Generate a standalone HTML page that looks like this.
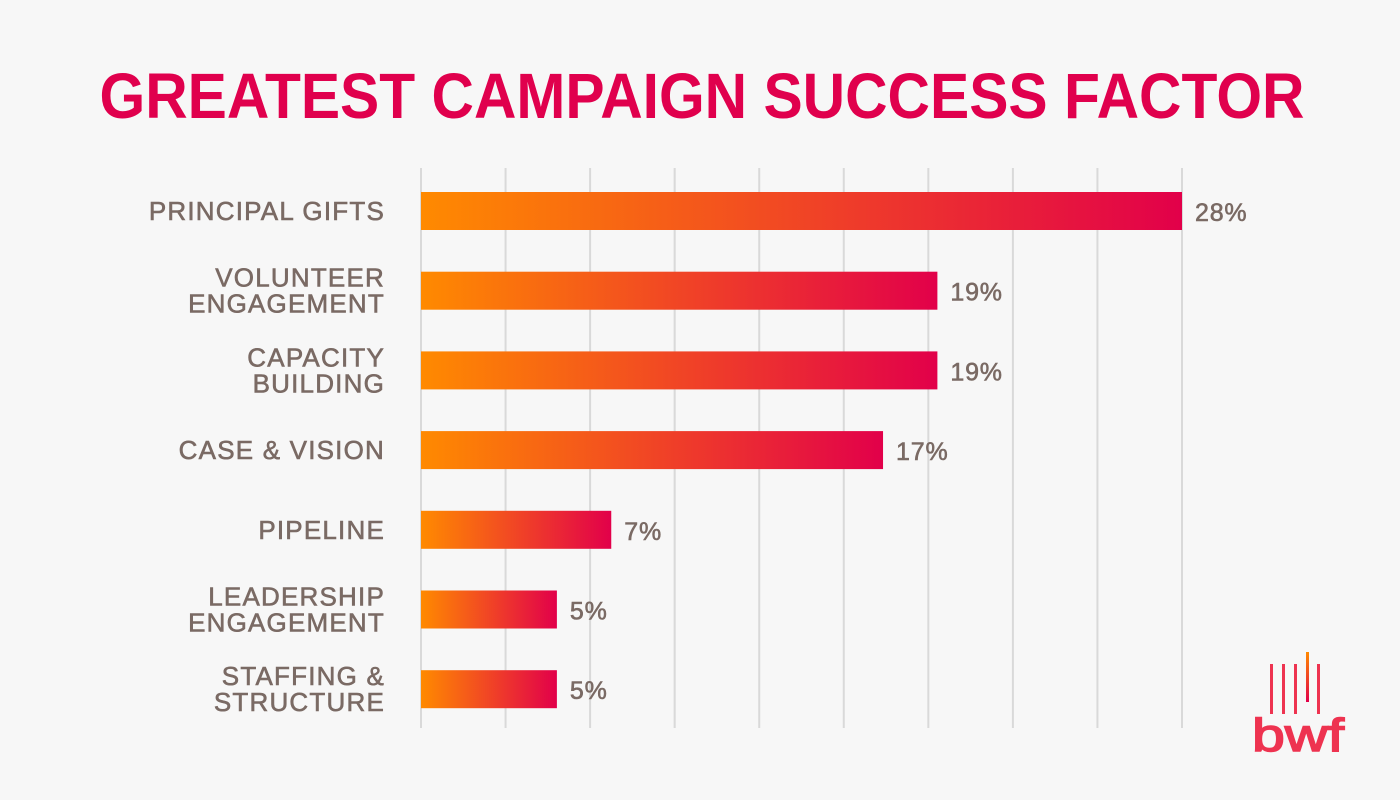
<!DOCTYPE html>
<html><head><meta charset="utf-8"><style>
body{margin:0;background:#f7f7f7;}
svg{display:block;font-family:"Liberation Sans",sans-serif;}
</style></head><body>
<svg id="chart" width="1400" height="800" viewBox="0 0 1400 800">
<defs><linearGradient id="g" x1="0" x2="1" y1="0" y2="0"><stop offset="0" stop-color="#ff8a00"/><stop offset="1" stop-color="#e2004a"/></linearGradient>
<linearGradient id="lg" x1="0" x2="0" y1="0" y2="1"><stop offset="0" stop-color="#ff8a00"/><stop offset="1" stop-color="#e2004a"/></linearGradient></defs>
<rect width="1400" height="800" fill="#f7f7f7"/>
<text x="702" y="118" text-anchor="middle" font-size="64" font-weight="bold" fill="#e0004d" textLength="1205" lengthAdjust="spacingAndGlyphs">GREATEST CAMPAIGN SUCCESS FACTOR</text>
<g id="grid"></g><g id="bars"></g>
<g>
<rect x="1270" y="664" width="3" height="50" fill="#ee3350"/>
<rect x="1282" y="664" width="3" height="50" fill="#ee3350"/>
<rect x="1294" y="664" width="3" height="50" fill="#ee3350"/>
<rect x="1306" y="652" width="3" height="50" fill="url(#lg)"/>
<rect x="1317" y="664" width="3" height="50" fill="#ee3350"/>
<text x="1298" y="751" text-anchor="middle" font-size="46" fill="#ee3350" stroke="#ee3350" stroke-width="1.5" textLength="92" lengthAdjust="spacingAndGlyphs">bwf</text>
</g>
</svg>
<script>
const categories=[["PRINCIPAL GIFTS"],["VOLUNTEER","ENGAGEMENT"],["CAPACITY","BUILDING"],["CASE & VISION"],["PIPELINE"],["LEADERSHIP","ENGAGEMENT"],["STAFFING &","STRUCTURE"]];
const values=[28,19,19,17,7,5,5];
const valueLabels=["28%","19%","19%","17%","7%","5%","5%"];
const ns="http://www.w3.org/2000/svg";
const x0=421,pxPer=761/28,yTop=211,step=79.7,bh=38;
const xs=v=>x0+v*pxPer, ys=i=>yTop+i*step;
const grid=document.getElementById('grid'),bars=document.getElementById('bars');
for(let k=0;k<10;k++){const l=document.createElementNS(ns,'line');


const gx=x0+k*761/9;l.setAttribute('x1',gx);l.setAttribute('x2',gx);l.setAttribute('y1',168);l.setAttribute('y2',728);l.setAttribute('stroke','#d9d9d9');l.setAttribute('stroke-width','2');grid.appendChild(l);}
categories.forEach((c,i)=>{const cy=ys(i);
const r=document.createElementNS(ns,'rect');


r.setAttribute('x',x0);r.setAttribute('y',cy-bh/2);r.setAttribute('width',xs(values[i])-x0);r.setAttribute('height',bh);r.setAttribute('fill','url(#g)');bars.appendChild(r);
const t=document.createElementNS(ns,'text');


t.setAttribute('x',385);t.setAttribute('text-anchor','end');t.setAttribute('font-size','26');t.setAttribute('fill','#7a6a64');t.setAttribute('stroke','#7a6a64');t.setAttribute('stroke-width','0.6');t.setAttribute('letter-spacing','1.2');
c.forEach((s,j)=>{const ts=document.createElementNS(ns,'tspan');ts.setAttribute('x',385);ts.setAttribute('y',cy+9+(c.length==2?(j==0?-13:13):0));ts.textContent=s;t.appendChild(ts);});
bars.appendChild(t);
const v=document.createElementNS(ns,'text');


v.setAttribute('x',xs(values[i])+13);v.setAttribute('y',cy+10);v.setAttribute('font-size','25');v.setAttribute('fill','#7a6a64');v.setAttribute('stroke','#7a6a64');v.setAttribute('stroke-width','0.6');v.setAttribute('letter-spacing','0.8');v.textContent=valueLabels[i];bars.appendChild(v);
});
</script>
</body></html>
